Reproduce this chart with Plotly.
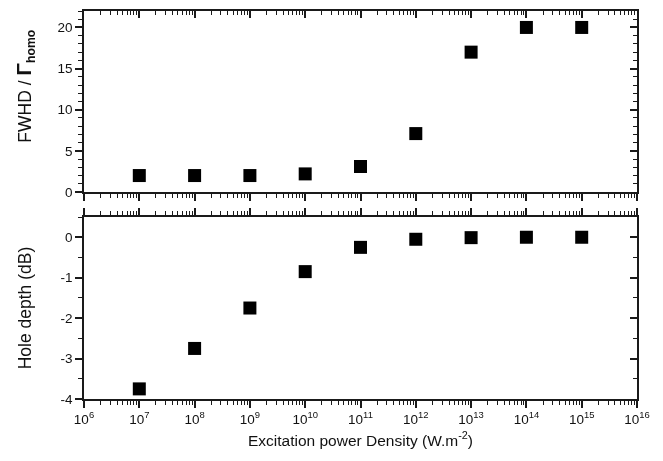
import plotly.graph_objects as go

power_density = [1e7, 1e8, 1e9, 1e10, 1e11, 1e12, 1e13, 1e14, 1e15]
fwhd_ratio = [2.0, 2.0, 2.0, 2.2, 3.1, 7.1, 17.0, 20.0, 20.0]
hole_depth = [-3.75, -2.75, -1.75, -0.85, -0.25, -0.05, -0.01, 0.0, 0.0]

x_exponents = list(range(6, 17))
x_tick_vals = [10.0 ** e for e in x_exponents]
x_tick_text = ["10<sup>%d</sup>" % e for e in x_exponents]
top_tick_vals = [0, 5, 10, 15, 20]
top_tick_text = ["0", "5", "10", "15", "20"]
bot_tick_vals = [-4, -3, -2, -1, 0]
bot_tick_text = ["-4", "-3", "-2", "-1", "0"]

x_range_log = [6, 16]
top_range = [0, 22]
bot_range = [-4, 0.5]

AX = "#1a1a1a"
FONT = "Liberation Sans, Arial, sans-serif"
minor_x = [k * 10.0 ** n for n in range(6, 16) for k in range(2, 10)]

fig = go.Figure()
marker = dict(symbol="square", size=13, color="black", line=dict(width=0))
fig.add_trace(go.Scatter(x=power_density, y=fwhd_ratio, mode="markers", marker=marker,
                         xaxis="x", yaxis="y", showlegend=False))
fig.add_trace(go.Scatter(x=power_density, y=hole_depth, mode="markers", marker=marker,
                         xaxis="x2", yaxis="y2", showlegend=False))
# invisible helpers for mirrored axes with inward ticks
fig.add_trace(go.Scatter(x=power_density, y=fwhd_ratio, mode="markers", opacity=0,
                         xaxis="x3", yaxis="y3", showlegend=False, hoverinfo="skip"))
fig.add_trace(go.Scatter(x=power_density, y=hole_depth, mode="markers", opacity=0,
                         xaxis="x2", yaxis="y4", showlegend=False, hoverinfo="skip"))

def xax(**kw):
    d = dict(type="log", range=x_range_log, tickmode="array", tickvals=x_tick_vals,
             ticktext=x_tick_text, showline=True, linecolor=AX, linewidth=1.5, automargin=False,
             tickcolor=AX, tickwidth=1.5, ticklen=7, showgrid=False, zeroline=False,
             tickfont=dict(size=13.5),
             minor=dict(tickmode="array", tickvals=minor_x, ticklen=4, tickcolor=AX, tickwidth=1.2,
                        showgrid=False))
    d.update(kw)
    d["minor"]["ticks"] = d["ticks"]
    return d

def yax(rng, tv, tt, mdt, **kw):
    d = dict(range=rng, tickmode="array", tickvals=tv, ticktext=tt, showline=True, linecolor=AX,
             linewidth=1.5, tickcolor=AX, tickwidth=1.5, ticklen=7, showgrid=False, zeroline=False,
             automargin=False, tickfont=dict(size=13.5),
             minor=dict(dtick=mdt, ticklen=4, tickcolor=AX, tickwidth=1.2, showgrid=False))
    d.update(kw)
    d["minor"]["ticks"] = d["ticks"]
    return d

TOP_DOM = [0.5335, 1.0]
BOT_DOM = [0.0, 0.469]

# the page body has an 8px margin, so the figure is sized and margined to compensate
fig.update_layout(
    width=647, height=445,
    margin=dict(l=76, r=18, t=3, b=54),
    paper_bgcolor="white", plot_bgcolor="white",
    font=dict(family=FONT, size=13, color="#111"),
    xaxis=xax(domain=[0, 1], anchor="y", ticks="outside", showticklabels=False),
    xaxis3=xax(overlaying="x", anchor="y", side="top", ticks="inside", showticklabels=False),
    xaxis2=xax(domain=[0, 1], anchor="y2", ticks="outside", mirror="ticks",
               title=dict(text="Excitation power Density (W.m<sup>-2</sup>)",
                          font=dict(size=15.5), standoff=9)),
    yaxis=yax(top_range, top_tick_vals, top_tick_text, 1, domain=TOP_DOM, anchor="x",
              ticks="outside"),
    yaxis3=yax(top_range, top_tick_vals, top_tick_text, 1, overlaying="y", anchor="x",
               side="right", ticks="inside", showticklabels=False),
    yaxis2=yax(bot_range, bot_tick_vals, bot_tick_text, 0.5, domain=BOT_DOM, anchor="x2",
               ticks="outside",
               title=dict(text="Hole depth (dB)", font=dict(size=17.5), standoff=24)),
    yaxis4=yax(bot_range, bot_tick_vals, bot_tick_text, 0.5, overlaying="y2", anchor="x2",
               side="right", ticks="inside", showticklabels=False),
    annotations=[dict(
        text="FWHD / <b><span style='font-size:21px'>Γ</span><sub>homo</sub></b>",
        xref="paper", yref="paper", x=-0.107, y=0.807, textangle=-90,
        xanchor="center", yanchor="middle", showarrow=False, font=dict(size=17.5),
    )],
)

fig.write_html("out.html")
